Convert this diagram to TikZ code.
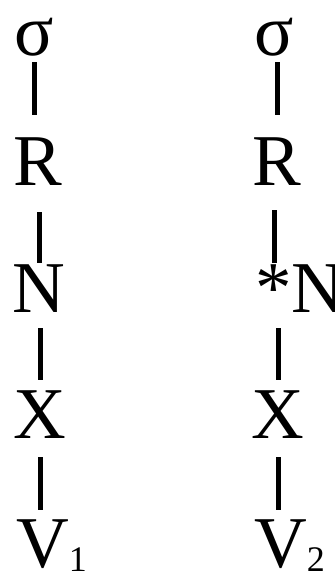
\documentclass[tikz,border=0pt]{standalone}
\usepackage{fontspec}
\setmainfont{Liberation Serif}
\usepackage{tikz}

\newcommand{\segfont}{\fontsize{73}{73}\selectfont}
\newcommand{\segsub}[1]{\raisebox{-4pt}{\fontsize{36}{36}\selectfont #1}}

\tikzset{
  seg/.style={font=\segfont, inner sep=0pt, text height=48pt, text depth=0pt, anchor=base},
  bar/.style={line width=5pt}
}

\begin{document}
\begin{tikzpicture}[x=1pt,y=1pt]
  \useasboundingbox (0,0) rectangle (335,-571);
  % left column
  \node[seg] (s1) at (34,-55) {σ};
  \node[seg] (r1) at (38,-185) {R};
  \node[seg] (n1) at (39,-312) {N};
  \node[seg] (x1) at (40,-438) {X};
  \node[seg,anchor=base west] (v1) at (16,-567) {V\segsub{1}};
  % right column
  \node[seg] (s2) at (274,-55) {σ};
  \node[seg] (r2) at (277,-185) {R};
  \node[seg,anchor=base west] (n2) at (255,-312) {*N};
  \node[seg] (x2) at (278,-438) {X};
  \node[seg,anchor=base west] (v2) at (254,-567) {V\segsub{2}};
  % connectors (\c gives the column of the bar)
  \foreach \u/\l/\c/\s/\e in {s1/r1/s1/7/22, r1/n1/n1/27/1, n1/x1/x1/16/10, x1/v1/x1/19/9,
                              s2/r2/r2/7/22, r2/n2/s2/25/1, n2/x2/x2/16/10, x2/v2/x2/19/9} {
    \draw[bar, shorten <=\s pt, shorten >=\e pt] (\u.south -| \c) -- (\l.north -| \c);
  }
\end{tikzpicture}
\end{document}
